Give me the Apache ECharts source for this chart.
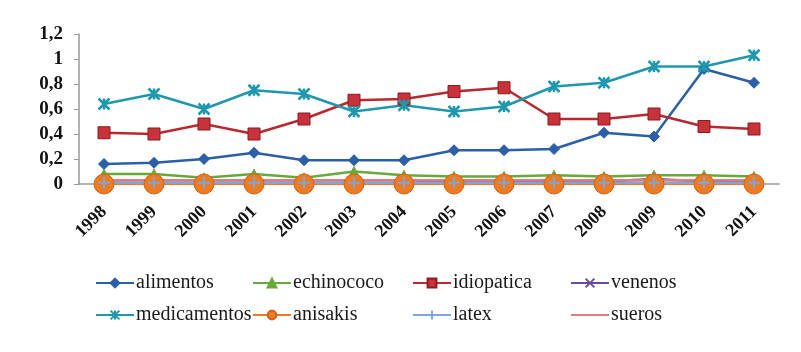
<html>
<head>
<meta charset="utf8">
<script src="https://cdn.jsdelivr.net/npm/echarts@6/dist/echarts.min.js"></script>
<style>body{margin:0;background:#fff}</style>
</head>
<body>
<div id="main" style="width:801px;height:352px;"></div>
<script type="text/javascript">
	var years = ['1998','1999','2000','2001','2002','2003','2004','2005','2006','2007','2008','2009','2010','2011'];
	var alimentos    = [0.16,0.17,0.20,0.25,0.19,0.19,0.19,0.27,0.27,0.28,0.41,0.38,0.92,0.81];
	var echinococo   = [0.08,0.08,0.05,0.08,0.05,0.10,0.07,0.06,0.06,0.07,0.06,0.07,0.07,0.06];
	var idiopatica   = [0.41,0.40,0.48,0.40,0.52,0.67,0.68,0.74,0.77,0.52,0.52,0.56,0.46,0.44];
	var venenos      = [0.03,0.03,0.03,0.03,0.03,0.03,0.03,0.02,0.02,0.02,0.02,0.04,0.02,0.02];
	var medicamentos = [0.64,0.72,0.60,0.75,0.72,0.58,0.63,0.58,0.62,0.78,0.81,0.94,0.94,1.03];
	var anisakis     = [0,0,0,0,0,0,0,0,0,0,0,0,0,0];
	var latex        = [0.01,0.01,0.01,0.01,0.01,0.01,0.01,0.01,0.01,0.01,0.01,0.01,0.01,0.01];
	var sueros       = [0.03,0.03,0.03,0.03,0.03,0.03,0.03,0.03,0.03,0.03,0.03,0.03,0.03,0.03];

	var font = 'Liberation Serif';
	var crossPath = 'path://M0,0L10,10M10,0L0,10';
	var starPath = 'path://M0,0L10,10M10,0L0,10M5,0L5,10';
	var plusPath = 'path://M5,0L5,10M0,5L10,5';

	function line(name, data, color, symbol, size, extra) {
		var s = {
			name: name, type: 'line', data: data,
			symbol: symbol, symbolSize: size,
			lineStyle: { color: color, width: 2.5 },
			itemStyle: { color: color, borderColor: color, borderWidth: 1 },
			emphasis: { disabled: true }, animation: false
		};
		for (var k in extra) s[k] = extra[k];
		return s;
	}

	function legend(left, names) {
		return {
			left: left, top: 273, orient: 'vertical', itemGap: 12, padding: 0,
			itemWidth: 38, itemHeight: 11,
			textStyle: { fontFamily: font, fontSize: 20, color: '#1a1a1a', padding: [0,0,0,-3] },
			data: names
		};
	}

	var chart = echarts.init(document.getElementById('main'));
	chart.setOption({
		grid: { left: 79, right: 22, top: 34, bottom: 168 },
		legend: [
			legend(95, ['alimentos','medicamentos']),
			legend(252, ['echinococo','anisakis']),
			legend(412, ['idiopatica','latex']),
			legend(570, ['venenos', { name: 'sueros', itemStyle: { opacity: 0 } }])
		],
		xAxis: {
			type: 'category', data: years, boundaryGap: true,
			axisLine: { lineStyle: { color: '#999', width: 1.5 } },
			axisTick: { lineStyle: { color: '#999' }, length: 5 },
			axisLabel: { rotate: 45, fontFamily: font, fontSize: 18, fontWeight: 'bold', color: '#111', margin: 25 }
		},
		yAxis: {
			type: 'value', min: 0, max: 1.2, interval: 0.2,
			splitLine: { show: false },
			axisLine: { show: true, lineStyle: { color: '#999', width: 1.5 } },
			axisTick: { show: true, lineStyle: { color: '#999' }, length: 5 },
			axisLabel: {
				fontFamily: font, fontSize: 19, fontWeight: 'bold', color: '#111', margin: 16,
				formatter: function (v) { return String(Math.round(v * 10) / 10).replace('.', ','); }
			}
		},
		series: [
			line('alimentos', alimentos, '#2b5fa8', 'diamond', 11),
			line('echinococo', echinococo, '#69a83a', 'triangle', 10),
			line('idiopatica', idiopatica, '#b8282e', 'rect', 12, { itemStyle: { color: '#c8323a', borderColor: '#8c1a1e', borderWidth: 1 } }),
			line('venenos', venenos, '#6a4c9c', crossPath, 9, { itemStyle: { color: 'none', borderColor: '#6a4c9c', borderWidth: 2 } }),
			line('medicamentos', medicamentos, '#1f98ad', starPath, 11, { itemStyle: { color: 'none', borderColor: '#1f98ad', borderWidth: 2.5 } }),
			line('anisakis', anisakis, '#ee7a22', 'circle', 20, { itemStyle: { color: '#ee7a22', borderColor: '#d0641a', borderWidth: 1 } }),
			line('latex', latex, '#7fa6d8', plusPath, 12, { itemStyle: { color: 'none', borderColor: '#7fa6d8', borderWidth: 2 } }),
			line('sueros', sueros, '#e07b80', 'none', 0)
		]
	});
</script>
</body>
</html>
